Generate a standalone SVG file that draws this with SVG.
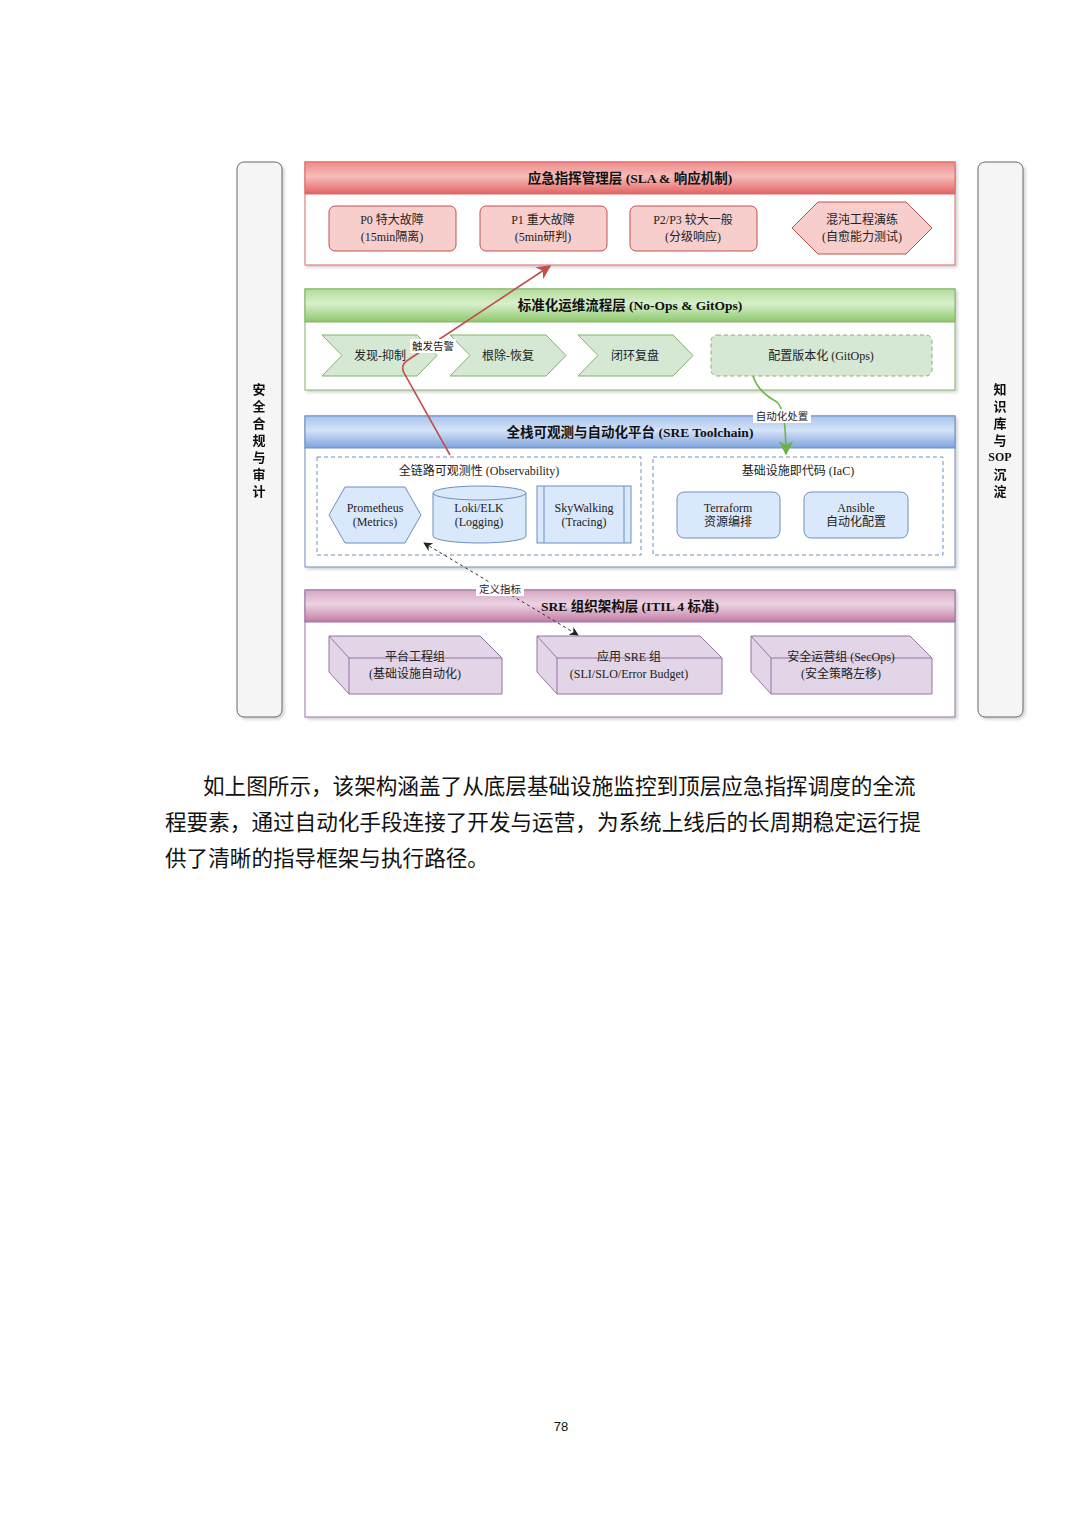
<svg xmlns="http://www.w3.org/2000/svg" width="1080" height="1528" viewBox="0 0 1080 1528">
<defs>
<linearGradient id="gRed" x1="0" y1="0" x2="0" y2="1"><stop offset="0" stop-color="#ee8b88"/><stop offset="0.45" stop-color="#f6bdbb"/><stop offset="1" stop-color="#e36360"/></linearGradient>
<linearGradient id="gGreen" x1="0" y1="0" x2="0" y2="1"><stop offset="0" stop-color="#b2dc9a"/><stop offset="0.45" stop-color="#d8efcc"/><stop offset="1" stop-color="#8cc86c"/></linearGradient>
<linearGradient id="gBlue" x1="0" y1="0" x2="0" y2="1"><stop offset="0" stop-color="#a9c4ec"/><stop offset="0.45" stop-color="#d4e3f8"/><stop offset="1" stop-color="#7ea3dd"/></linearGradient>
<linearGradient id="gPurple" x1="0" y1="0" x2="0" y2="1"><stop offset="0" stop-color="#d7a7c4"/><stop offset="0.45" stop-color="#ecd3e2"/><stop offset="1" stop-color="#c27ba3"/></linearGradient>
<filter id="sh" x="-5%" y="-5%" width="115%" height="115%"><feDropShadow dx="2" dy="2" stdDeviation="1.5" flood-color="#000" flood-opacity="0.18"/></filter>
<marker id="arRed" viewBox="0 0 10 10" refX="9" refY="5" markerWidth="9" markerHeight="9" orient="auto"><path d="M0,0 L10,5 L0,10 L3,5 Z" fill="#c0504d"/></marker>
<marker id="arGreen" viewBox="0 0 10 10" refX="9" refY="5" markerWidth="9" markerHeight="9" orient="auto"><path d="M0,0 L10,5 L0,10 L3,5 Z" fill="#6db33f"/></marker>
<marker id="arBlk" viewBox="0 0 10 10" refX="9" refY="5" markerWidth="9" markerHeight="9" orient="auto-start-reverse"><path d="M0,0 L10,5 L0,10 L3,5 Z" fill="#222"/></marker>
</defs>
<style>
.hdr{font-family:"Liberation Serif","Noto Sans CJK SC",serif;font-weight:bold;font-size:13.5px;fill:#111;text-anchor:middle;dominant-baseline:central}
.lbl{font-family:"Liberation Serif","Noto Sans CJK SC",serif;font-size:12px;fill:#222;text-anchor:middle;dominant-baseline:central}
.side{font-family:"Liberation Sans","Noto Sans CJK SC",sans-serif;font-weight:bold;font-size:13px;fill:#111;text-anchor:middle;dominant-baseline:central}
.elab{font-family:"Liberation Sans","Noto Sans CJK SC",sans-serif;font-size:10.5px;fill:#222;text-anchor:middle;dominant-baseline:central}
.para{font-family:"Liberation Serif","Noto Sans CJK SC",serif;font-size:21.6px;fill:#111}
.bar{fill:#f5f5f5;stroke:#666;stroke-width:1}
.red{fill:#f8cecc;stroke:#c0504d;stroke-width:1}
.grn{fill:#d5e8d4;stroke:#82b366;stroke-width:1}
.blu{fill:#dae8fc;stroke:#6c8ebf;stroke-width:1}
.pur{fill:#e1d5e7;stroke:#9673a6;stroke-width:1}
.dash{fill:none;stroke:#6c8ebf;stroke-width:1;stroke-dasharray:4 3}
</style>
<rect width="1080" height="1528" fill="#fff"/>

<g id="side-left" filter="url(#sh)">
<rect class="bar" x="237" y="162" width="45" height="555" rx="7"/>
<text class="side" x="259"><tspan x="259" y="389">安</tspan><tspan x="259" y="406">全</tspan><tspan x="259" y="423">合</tspan><tspan x="259" y="440">规</tspan><tspan x="259" y="457">与</tspan><tspan x="259" y="474">审</tspan><tspan x="259" y="491">计</tspan></text>
</g>
<g id="side-right" filter="url(#sh)">
<rect class="bar" x="978" y="162" width="45" height="555" rx="7"/>
<text class="side" x="1000"><tspan x="1000" y="389">知</tspan><tspan x="1000" y="406">识</tspan><tspan x="1000" y="423">库</tspan><tspan x="1000" y="440">与</tspan><tspan x="1000" y="457" font-family="Liberation Serif" font-size="12">SOP</tspan><tspan x="1000" y="474">沉</tspan><tspan x="1000" y="491">淀</tspan></text>
</g>

<g id="layer-emergency">
<rect x="305" y="162" width="650" height="103" fill="#fff" stroke="#e06666" filter="url(#sh)"/>
<rect x="305" y="162" width="650" height="32" fill="url(#gRed)" stroke="#e06666"/>
<text class="hdr" x="630" y="178">应急指挥管理层 (SLA &amp; 响应机制)</text>
</g>
<g id="p0"><rect class="red" x="329" y="206" width="127" height="45" rx="6"/><text class="lbl" x="392" y="220">P0 特大故障</text><text class="lbl" x="392" y="237">(15min隔离)</text></g>
<g id="p1"><rect class="red" x="480" y="206" width="127" height="45" rx="6"/><text class="lbl" x="543" y="220">P1 重大故障</text><text class="lbl" x="543" y="237">(5min研判)</text></g>
<g id="p2p3"><rect class="red" x="630" y="206" width="127" height="45" rx="6"/><text class="lbl" x="693" y="220">P2/P3 较大一般</text><text class="lbl" x="693" y="237">(分级响应)</text></g>
<g id="chaos"><polygon class="red" points="792,228 818,202 906,202 932,228 906,254 818,254"/><text class="lbl" x="862" y="220">混沌工程演练</text><text class="lbl" x="862" y="237">(自愈能力测试)</text></g>

<g id="layer-process">
<rect x="305" y="289" width="650" height="101" fill="#fff" stroke="#82b366" filter="url(#sh)"/>
<rect x="305" y="289" width="650" height="33" fill="url(#gGreen)" stroke="#82b366"/>
<text class="hdr" x="630" y="305">标准化运维流程层 (No-Ops &amp; GitOps)</text>
</g>
<g id="discover"><polygon class="grn" points="322,335 417,335 437,355.5 417,376 322,376 342,355.5"/><text class="lbl" x="380" y="356">发现-抑制</text></g>
<g id="recover"><polygon class="grn" points="450,335 546,335 566,355.5 546,376 450,376 470,355.5"/><text class="lbl" x="508" y="356">根除-恢复</text></g>
<g id="review"><polygon class="grn" points="578,335 673,335 693,355.5 673,376 578,376 598,355.5"/><text class="lbl" x="635" y="356">闭环复盘</text></g>
<g id="gitops"><rect x="711" y="335" width="221" height="41" rx="6" fill="#d5e8d4" stroke="#82b366" stroke-dasharray="4 3"/><text class="lbl" x="821" y="356">配置版本化 (GitOps)</text></g>

<g id="layer-platform">
<rect x="305" y="416" width="650" height="151" fill="#fff" stroke="#6c8ebf" filter="url(#sh)"/>
<rect x="305" y="416" width="650" height="32" fill="url(#gBlue)" stroke="#6c8ebf"/>
<text class="hdr" x="630" y="432">全栈可观测与自动化平台 (SRE Toolchain)</text>
</g>
<g id="observability"><rect class="dash" x="317" y="457" width="324" height="98"/><text class="lbl" x="479" y="471">全链路可观测性 (Observability)</text></g>
<g id="prometheus"><polygon class="blu" points="329,515 345,487 405,487 421,515 405,543 345,543"/><text class="lbl" x="375" y="508">Prometheus</text><text class="lbl" x="375" y="522">(Metrics)</text></g>
<g id="loki"><path class="blu" d="M433,493 a46.5,7 0 0 1 93,0 v43 a46.5,7 0 0 1 -93,0 Z"/><path d="M433,493 a46.5,7 0 0 0 93,0" fill="none" stroke="#6c8ebf"/><text class="lbl" x="479" y="508">Loki/ELK</text><text class="lbl" x="479" y="522">(Logging)</text></g>
<g id="skywalking"><rect class="blu" x="537" y="486" width="94" height="57"/><line x1="544" y1="486" x2="544" y2="543" stroke="#6c8ebf"/><line x1="624" y1="486" x2="624" y2="543" stroke="#6c8ebf"/><text class="lbl" x="584" y="508">SkyWalking</text><text class="lbl" x="584" y="522">(Tracing)</text></g>
<g id="iac"><rect class="dash" x="653" y="457" width="290" height="98"/><text class="lbl" x="798" y="471">基础设施即代码 (IaC)</text></g>
<g id="terraform"><rect class="blu" x="677" y="492" width="103" height="46" rx="7"/><text class="lbl" x="728" y="508">Terraform</text><text class="lbl" x="728" y="522">资源编排</text></g>
<g id="ansible"><rect class="blu" x="804" y="492" width="104" height="46" rx="7"/><text class="lbl" x="856" y="508">Ansible</text><text class="lbl" x="856" y="522">自动化配置</text></g>

<g id="layer-org">
<rect x="305" y="590" width="650" height="127" fill="#fff" stroke="#9673a6" filter="url(#sh)"/>
<rect x="305" y="590" width="650" height="32" fill="url(#gPurple)" stroke="#9673a6"/>
<text class="hdr" x="630" y="606">SRE 组织架构层 (ITIL 4 标准)</text>
</g>
<g id="platform-team"><polygon class="pur" points="329,636 480,636 502,658 502,694 349,694 329,672"/><polyline points="329,636 349,658 502,658" fill="none" stroke="#9673a6"/><line x1="349" y1="658" x2="349" y2="694" stroke="#9673a6"/><text class="lbl" x="415" y="657">平台工程组</text><text class="lbl" x="415" y="674">(基础设施自动化)</text></g>
<g id="app-sre"><polygon class="pur" points="537,636 700,636 722,658 722,694 557,694 537,672"/><polyline points="537,636 557,658 722,658" fill="none" stroke="#9673a6"/><line x1="557" y1="658" x2="557" y2="694" stroke="#9673a6"/><text class="lbl" x="629" y="657">应用 SRE 组</text><text class="lbl" x="629" y="674">(SLI/SLO/Error Budget)</text></g>
<g id="secops"><polygon class="pur" points="751,636 910,636 932,658 932,694 771,694 751,672"/><polyline points="751,636 771,658 932,658" fill="none" stroke="#9673a6"/><line x1="771" y1="658" x2="771" y2="694" stroke="#9673a6"/><text class="lbl" x="841" y="657">安全运营组 (SecOps)</text><text class="lbl" x="841" y="674">(安全策略左移)</text></g>

<g id="connectors">
<path d="M450,455 L404,373 Q400,365 408,360 L550,266" fill="none" stroke="#c0504d" stroke-width="1.6" marker-end="url(#arRed)"/>
<rect x="410" y="339" width="46" height="14" fill="#fff"/>
<text class="elab" x="433" y="346">触发告警</text>
<path d="M753,376 Q758,392 777,402 Q786,410 786,454" fill="none" stroke="#6db33f" stroke-width="1.6" marker-end="url(#arGreen)"/>
<rect x="753" y="409" width="58" height="14" fill="#fff"/>
<text class="elab" x="782" y="416">自动化处置</text>
<path d="M424,543 L578,635" fill="none" stroke="#333" stroke-width="1" stroke-dasharray="3 3" marker-start="url(#arBlk)" marker-end="url(#arBlk)"/>
<rect x="476" y="582" width="48" height="14" fill="#fff"/>
<text class="elab" x="500" y="589">定义指标</text>
</g>

<g id="paragraph">
<text class="para" x="203" y="794">如上图所示，该架构涵盖了从底层基础设施监控到顶层应急指挥调度的全流</text>
<text class="para" x="165" y="830">程要素，通过自动化手段连接了开发与运营，为系统上线后的长周期稳定运行提</text>
<text class="para" x="165" y="866">供了清晰的指导框架与执行路径。</text>
</g>
<text x="561" y="1431" font-family="Liberation Sans, sans-serif" font-size="13" fill="#111" text-anchor="middle">78</text>
</svg>
